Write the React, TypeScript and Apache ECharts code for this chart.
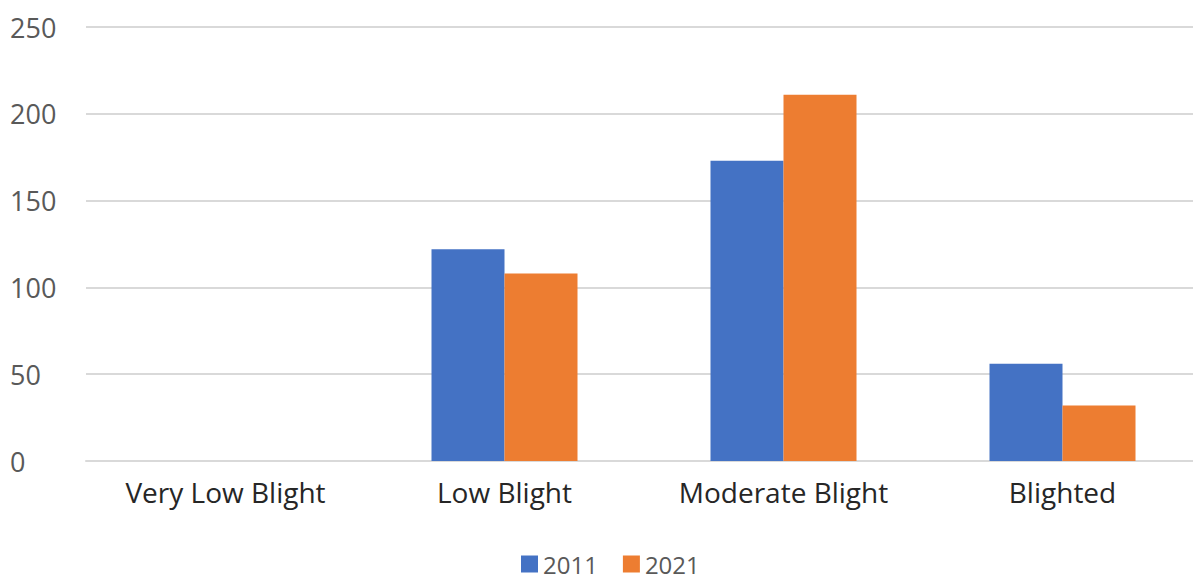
import React, { useEffect, useRef } from "react";
import * as echarts from "echarts";

const categories = ["Very Low Blight", "Low Blight", "Moderate Blight", "Blighted"];
const series2011 = [0, 122, 173, 56];
const series2021 = [0, 108, 211, 32];
const yTicks = [0, 50, 100, 150, 200, 250];

export default function App() {
  const ref = useRef<HTMLDivElement>(null);
  useEffect(() => {
    const chart = echarts.init(ref.current!, null, { renderer: "svg" });
    chart.setOption({
      animation: false,
      backgroundColor: "#ffffff",
      textStyle: { fontFamily: "Open Sans" },
      grid: { left: 86, top: 27, width: 1116, height: 434, containLabel: false, outerBoundsMode: "none" },
      legend: {
        data: ["2011", "2021"],
        left: 521,
        top: 552,
        padding: 0,
        itemWidth: 17,
        itemHeight: 17,
        itemGap: 25,
        icon: "rect",
        textStyle: { fontSize: 24, lineHeight: 24, color: "#595959", fontFamily: "Open Sans" },
      },
      xAxis: {
        type: "category",
        data: categories,
        axisLine: { show: true, lineStyle: { color: "#d9d9d9", width: 2 } },
        axisTick: { show: false },
        axisLabel: { fontSize: 28, color: "#262626", margin: 17, fontFamily: "Open Sans" },
      },
      yAxis: {
        type: "value",
        min: yTicks[0],
        max: yTicks[yTicks.length - 1],
        interval: 50,
        axisLine: { show: false },
        axisTick: { show: false },
        splitLine: { lineStyle: { color: "#d9d9d9", width: 2 } },
        axisLabel: { fontSize: 27, color: "#595959", margin: 76, align: "left", fontFamily: "Open Sans" },
      },
      series: [
        {
          name: "2011",
          type: "bar",
          data: series2011,
          barWidth: 73,
          barGap: "0%",
          itemStyle: { color: "#4472C4" },
        },
        {
          name: "2021",
          type: "bar",
          data: series2021,
          barWidth: 73,
          barGap: "0%",
          itemStyle: { color: "#ED7D31" },
        },
      ],
    });
    return () => chart.dispose();
  }, []);
  return (
    <div
      ref={ref}
      style={{ position: "absolute", left: 0, top: 0, width: 1193, height: 582 }}
    />
  );
}
